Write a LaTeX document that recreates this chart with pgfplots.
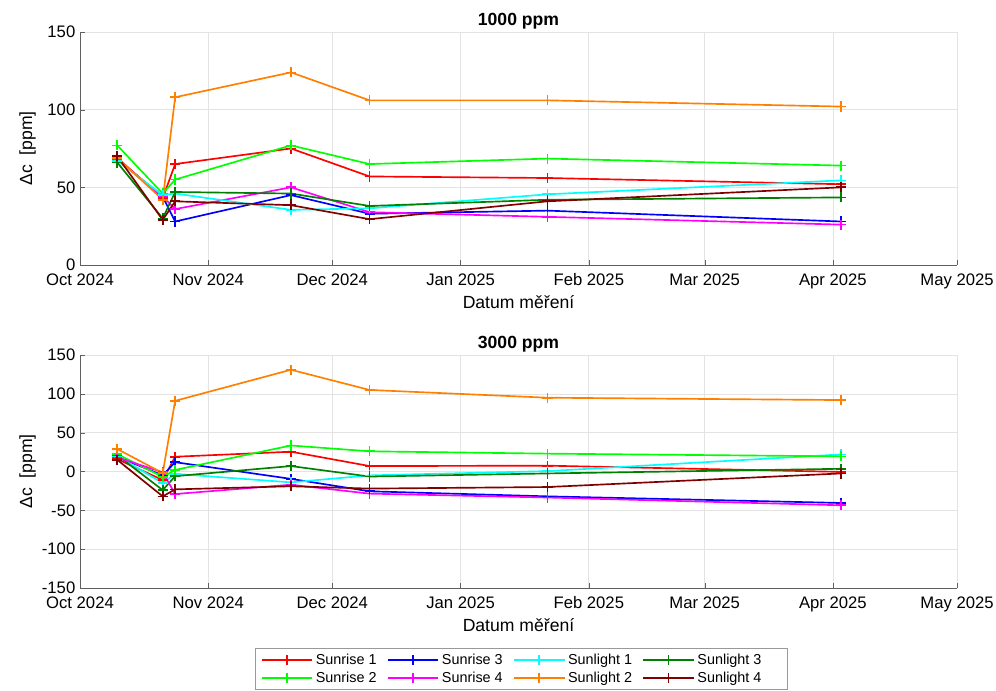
\documentclass[border=0pt]{standalone}
\usepackage{pgfplots}
\pgfplotsset{compat=1.18}
\usepackage{pgfplotstable}
\usepackage{fontspec}
\setmainfont{Liberation Sans}
\definecolor{cS1}{rgb}{1,0,0}
\definecolor{cS2}{rgb}{0,1,0}
\definecolor{cS3}{rgb}{0,0,1}
\definecolor{cS4}{rgb}{1,0,1}
\definecolor{cL1}{rgb}{0,1,1}
\definecolor{cL2}{rgb}{1,0.5,0}
\definecolor{cL3}{rgb}{0,0.5,0}
\definecolor{cL4}{rgb}{0.5,0,0}

% days since 1 Oct 2024
\pgfplotstableread{
d   S1    S2    S3   S4   L1    L2   L3    L4
9   69    77    68   68   67    69   66    70
20  43    46    44   44   45    42   30    29
23  65    55    28   36   46    108  47    41
51  75    77    45   50   35.5  124  46    38.5
70  57    65    33   34   36.5  106  38    29.5
113 56    68.5  35   31   45.5  106  42    41
184 52    64    28   26   54.5  102  43.5  50
}\topdata
\pgfplotstableread{
d   S1    S2    S3     S4     L1    L2   L3    L4
9   16    22.5  19     18     20    29   21    15
20  -11   -7    -5     -1     -15   -2   -24   -32
23  19    2     12     -29    -3    91   -6    -23
51  25.5  33.5  -9.5   -17    -14   131  7     -19
70  7     26    -25.5  -28.5  -5    105  -6.5  -22
113 7.5   23    -32    -33.5  0.5   95   -2.5  -20
184 -0.5  19.5  -40.5  -43.5  22    92   3.5   -2.5
}\botdata

\pgfplotsset{
  ser/.style={draw=#1, fill=none, line width=1.25pt,
    mark options={solid, draw=#1, fill=none, line width=1.25pt},
    legend image post style={draw=#1, line width=1.25pt, mark options={solid, draw=#1, fill=none, line width=1.25pt}}},
  myaxis/.style={
    scale only axis, width=657.75pt, height=174.75pt,
    xmin=0, xmax=212,
    xtick={0,31,61,92,123,151,182,212},
    xticklabels={Oct 2024,Nov 2024,Dec 2024,Jan 2025,Feb 2025,Mar 2025,Apr 2025,May 2025},
    axis x line*=bottom, axis y line*=left,
    axis line style={draw=gray!75!black, line width=0.6pt},
    tick align=inside, major tick length=4pt,
    tick style={draw=gray!75!black},
    grid=major, grid style={draw=gray!22, line width=0.5pt},
    ticklabel style={font=\fontsize{12.5}{14}\selectfont},
    xticklabel style={yshift=-3pt},
    /pgf/number format/assume math mode=true,
    label style={font=\fontsize{13.2}{15}\selectfont},
    xlabel={Datum měření},
    ylabel={Δc\ \ [ppm]},
    xlabel style={at={(axis description cs:0.5,-0.11)}, anchor=north},
    ylabel style={at={(axis description cs:-0.045,0.5)}, anchor=south, rotate=0},
    title style={font=\bfseries\fontsize{13.2}{15}\selectfont, at={(axis description cs:0.5,1)}, anchor=south, yshift=-7.5pt},
    every axis plot/.append style={mark=+, mark size=3.8pt},
  }
}

\begin{document}
\begin{tikzpicture}
\useasboundingbox (0,0) rectangle (747pt,-518.25pt);
\begin{axis}[myaxis, at={(60pt,-198.75pt)}, anchor=south west,
  ymin=0, ymax=150, ytick={0,50,100,150}, title={1000 ppm}]
\addplot[ser=cS1] table[x=d,y=S1]{\topdata};
\addplot[ser=cS2] table[x=d,y=S2]{\topdata};
\addplot[ser=cS3] table[x=d,y=S3]{\topdata};
\addplot[ser=cS4] table[x=d,y=S4]{\topdata};
\addplot[ser=cL1] table[x=d,y=L1]{\topdata};
\addplot[ser=cL2] table[x=d,y=L2]{\topdata};
\addplot[ser=cL3] table[x=d,y=L3]{\topdata};
\addplot[ser=cL4] table[x=d,y=L4]{\topdata};
\end{axis}
\begin{axis}[myaxis, at={(60pt,-441pt)}, anchor=south west,
  ymin=-150, ymax=150, ytick={-150,-100,...,150}, title={3000 ppm},
  legend columns=4,
  legend cell align=left,
  legend style={at={(axis description cs:0.503,-0.2575)}, anchor=north,
    draw=gray!80, font=\fontsize{10.8}{12.5}\selectfont,
    inner xsep=4pt, inner ysep=2.2pt, row sep=0pt,
    /tikz/every even column/.append style={column sep=5.75pt}},
  legend image code/.code={\draw[mark repeat=2,mark phase=2,#1] plot coordinates {(0pt,0pt) (19pt,0pt) (38pt,0pt)};},
]
\addplot[ser=cS1] table[x=d,y=S1]{\botdata}; \addlegendentry{Sunrise 1}
\addplot[ser=cS3] table[x=d,y=S3]{\botdata}; \addlegendentry{Sunrise 3}
\addplot[ser=cL1] table[x=d,y=L1]{\botdata}; \addlegendentry{Sunlight 1}
\addplot[ser=cL3] table[x=d,y=L3]{\botdata}; \addlegendentry{Sunlight 3\rule{13pt}{0pt}}
\addplot[ser=cS2] table[x=d,y=S2]{\botdata}; \addlegendentry{Sunrise 2}
\addplot[ser=cS4] table[x=d,y=S4]{\botdata}; \addlegendentry{Sunrise 4}
\addplot[ser=cL2] table[x=d,y=L2]{\botdata}; \addlegendentry{Sunlight 2}
\addplot[ser=cL4] table[x=d,y=L4]{\botdata}; \addlegendentry{Sunlight 4\rule{13pt}{0pt}}
\end{axis}
\end{tikzpicture}
\end{document}
